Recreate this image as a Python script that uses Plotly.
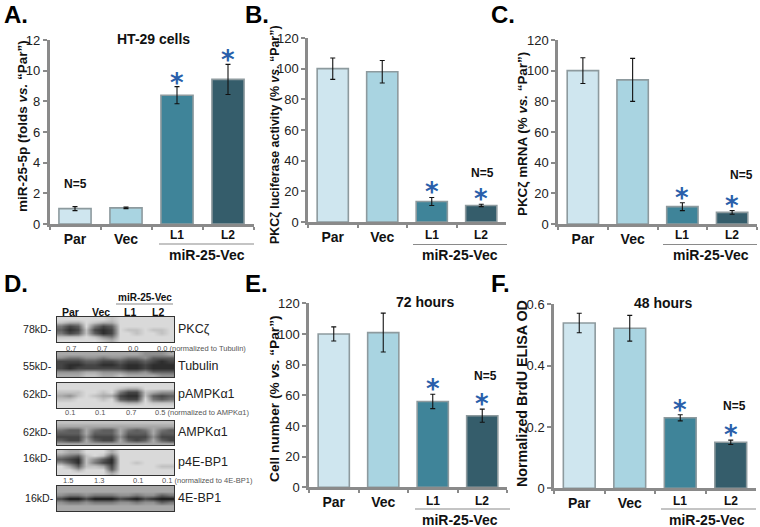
import plotly.graph_objects as go

W, H = 760, 527
FONT = "Liberation Sans"

categories = ["Par", "Vec", "L1", "L2"]
tick_labels = ["<b>Par</b>", "<b>Vec</b>", " ", "  "]
bar_colors = ["#cfe6ef", "#a9d4e1", "#3f8499", "#355d6b"]

a_values = [1.0, 1.05, 8.4, 9.43]
a_errors = [0.13, 0.05, 0.56, 0.98]
b_values = [100, 98, 13.4, 10.8]
b_errors = [7, 7.3, 2.6, 0.8]
c_values = [100, 94, 11.3, 7.6]
c_errors = [8.4, 14, 2.6, 1.2]
e_values = [100, 100.9, 56, 46.7]
e_errors = [4.6, 12.7, 4.7, 4.3]
f_values = [0.539, 0.522, 0.23, 0.15]
f_errors = [0.032, 0.042, 0.01, 0.007]

pct_ticks = [0, 20, 40, 60, 80, 100, 120]
pct_text = ["0", "20", "40", "60", "80", "100", "120"]
a_ticks = [0, 2, 4, 6, 8, 10, 12]
a_text = ["0", "2", "4", "6", "8", "10", "12"]
f_ticks = [0, 0.2, 0.4, 0.6]
f_text = ["0", "0.2", "0.4", "0.6"]

# Blot densities (0 = pale, 9 = darkest), lanes left to right
blot_pkc = [
    [1, 1, 1, 1, 1, 1, 2, 1, 1, 1, 1, 1, 1, 1],
    [2, 3, 3, 1, 2, 3, 3, 1, 1, 1, 1, 1, 1, 1],
    [5, 7, 6, 1, 5, 7, 6, 1, 1, 1, 1, 1, 1, 1],
    [6, 8, 7, 2, 7, 8, 7, 1, 2, 2, 1, 2, 2, 1],
    [5, 7, 6, 2, 6, 8, 7, 1, 1, 2, 1, 1, 2, 1],
    [2, 2, 2, 1, 2, 4, 5, 1, 1, 1, 1, 1, 1, 1],
    [1, 1, 1, 1, 1, 2, 3, 1, 1, 1, 1, 1, 1, 1],
]
blot_tubulin = [
    [3, 3, 3, 3, 3, 3, 3, 3, 3, 3, 4, 4, 4, 3],
    [4, 5, 5, 4, 4, 5, 4, 4, 5, 5, 4, 6, 6, 6],
    [7, 7, 7, 6, 6, 7, 7, 6, 7, 7, 6, 7, 8, 7],
    [7, 8, 8, 7, 7, 8, 8, 7, 8, 8, 7, 8, 8, 8],
    [7, 8, 7, 7, 7, 7, 7, 7, 8, 8, 7, 8, 8, 8],
    [4, 4, 4, 3, 3, 4, 4, 4, 5, 5, 4, 6, 6, 6],
    [3, 3, 3, 2, 2, 3, 3, 2, 3, 3, 3, 3, 4, 4],
]
blot_pampk = [
    [1, 1, 1, 1, 1, 1, 1, 1, 1, 1, 1, 1, 1, 1],
    [1, 1, 1, 1, 1, 1, 1, 2, 3, 3, 1, 1, 1, 1],
    [2, 2, 2, 1, 1, 2, 1, 5, 7, 7, 2, 3, 4, 4],
    [3, 4, 2, 1, 2, 3, 3, 7, 8, 8, 2, 6, 7, 6],
    [2, 2, 1, 1, 1, 2, 1, 6, 7, 7, 1, 5, 6, 5],
    [1, 1, 1, 1, 1, 1, 1, 2, 3, 3, 1, 2, 2, 2],
    [1, 1, 1, 1, 1, 1, 1, 1, 1, 1, 1, 1, 1, 1],
]
blot_ampk = [
    [2, 2, 2, 2, 2, 2, 2, 2, 2, 2, 2, 2, 2, 2],
    [3, 3, 3, 3, 3, 3, 3, 3, 3, 3, 3, 3, 3, 3],
    [5, 6, 6, 3, 5, 6, 6, 3, 5, 6, 5, 3, 5, 6],
    [6, 6, 6, 3, 6, 6, 6, 3, 6, 6, 6, 3, 6, 6],
    [7, 7, 7, 4, 7, 7, 7, 4, 7, 7, 7, 4, 7, 7],
    [6, 7, 7, 3, 6, 7, 7, 3, 6, 7, 6, 3, 6, 7],
    [3, 3, 3, 3, 3, 3, 3, 3, 3, 3, 3, 3, 3, 3],
]
blot_p4e = [
    [2, 3, 3, 1, 1, 1, 3, 1, 1, 1, 1, 1, 1, 1],
    [4, 5, 6, 2, 1, 2, 6, 1, 1, 1, 1, 1, 1, 1],
    [6, 7, 8, 2, 4, 6, 8, 1, 1, 1, 1, 1, 1, 1],
    [4, 6, 8, 2, 5, 7, 8, 1, 1, 2, 1, 1, 1, 1],
    [1, 3, 6, 2, 2, 3, 7, 1, 1, 1, 1, 1, 2, 2],
    [1, 1, 3, 1, 1, 1, 6, 1, 1, 1, 1, 1, 1, 1],
    [1, 1, 1, 1, 1, 1, 3, 1, 1, 1, 1, 1, 1, 1],
]
blot_4e = [
    [3, 3, 3, 3, 3, 3, 3, 3, 3, 3, 3, 3, 3, 3],
    [3, 3, 3, 3, 3, 3, 3, 3, 3, 3, 3, 3, 3, 3],
    [4, 5, 5, 4, 5, 5, 5, 4, 4, 5, 4, 4, 6, 5],
    [7, 9, 9, 7, 9, 9, 9, 7, 8, 9, 7, 8, 9, 9],
    [4, 5, 5, 4, 5, 5, 5, 4, 4, 5, 4, 4, 6, 5],
    [3, 3, 3, 3, 3, 3, 3, 3, 3, 3, 3, 3, 3, 3],
    [3, 3, 3, 3, 3, 3, 3, 3, 3, 3, 3, 3, 3, 3],
]

fig = go.Figure()
ann = []
shapes = []
layout = {}


def px(x, y, text, size=12, bold=False, color="#111", anchor="center", angle=0, family=FONT):
    ann.append(dict(x=x / W, y=1 - y / H, xref="paper", yref="paper", text=f"<b>{text}</b>" if bold else text,
                    showarrow=False, xanchor=anchor, yanchor="middle", textangle=angle,
                    font=dict(family=family, size=size, color=color)))


def panel(n, box, values, errors, ymax, ticks, ticktext, line_y, line_x, label_xy, l_y, star_shift=-12):
    left, right, top, bottom = box
    sfx = "" if n == 1 else str(n)
    fig.add_trace(go.Bar(x=categories, y=values, xaxis=f"x{sfx}", yaxis=f"y{sfx}", width=0.63,
                         marker=dict(color=bar_colors, line=dict(color="#8d9a9e", width=1.6)),
                         error_y=dict(type="data", array=errors, color="#111", thickness=1.1, width=2.5),
                         showlegend=False))
    layout[f"xaxis{sfx}"] = dict(domain=[left / W, right / W], type="category", categoryorder="array",
                                 categoryarray=categories, tickson="boundaries", tickvals=categories,
                                 ticktext=tick_labels, ticks="outside", ticklen=3, tickwidth=2, tickcolor="#8a8a8a",
                                 showline=True, linecolor="#8a8a8a", linewidth=2.5, showgrid=False, zeroline=False,
                                 anchor=f"y{sfx}", range=[-0.5, 3.5], automargin=False,
                                 tickfont=dict(family=FONT, size=14, color="#111"), fixedrange=True)
    layout[f"yaxis{sfx}"] = dict(domain=[1 - bottom / H, 1 - top / H], range=[0, ymax], tickvals=ticks, ticktext=ticktext,
                                 ticks="outside", ticklen=4, tickwidth=2, tickcolor="#8a8a8a", showline=True,
                                 linecolor="#8a8a8a", linewidth=2.5, showgrid=False, zeroline=False, automargin=False,
                                 anchor=f"x{sfx}", tickfont=dict(family=FONT, size=13, color="#222"), fixedrange=True)
    shapes.append(dict(type="line", xref="paper", yref="paper", x0=line_x[0] / W, x1=line_x[1] / W,
                       y0=1 - line_y / H, y1=1 - line_y / H, line=dict(color="#8a8a8a", width=1.2)))
    px(label_xy[0], label_xy[1], "miR-25-Vec", 14, True)
    for i in (2, 3):
        ann.append(dict(x=categories[i], y=l_y, xref=f"x{sfx}", yref="paper", text="<b>%s</b>" % categories[i],
                        showarrow=False, xanchor="center", yanchor="middle",
                        font=dict(family=FONT, size=12, color="#111")))
        ann.append(dict(x=categories[i], y=values[i] + errors[i], xref=f"x{sfx}", yref=f"y{sfx}", text="<b>*</b>",
                        showarrow=False, xanchor="center", yanchor="bottom", yshift=star_shift,
                        font=dict(family="DejaVu Sans", size=26, color="#2a5fab")))


panel(1, (49.5, 253.5, 40, 224), a_values, a_errors, 12, a_ticks, a_text, 244, (159, 254), (207, 255), 1 - 235 / H, -13)
panel(2, (308, 506, 38, 222), b_values, b_errors, 120, pct_ticks, pct_text, 244.5, (413, 507), (460, 255), 1 - 235 / H)
panel(3, (558, 757, 40, 224), c_values, c_errors, 120, pct_ticks, pct_text, 244.5, (663, 757), (711, 255), 1 - 235 / H)
panel(4, (309, 507, 303.3, 487.3), e_values, e_errors, 120, pct_ticks, pct_text, 509, (415, 510), (460, 520), 1 - 500.5 / H)
panel(5, (554, 756, 304.3, 488.3), f_values, f_errors, 0.6, f_ticks, f_text, 509, (661, 756), (707, 520), 1 - 500.5 / H)

# Western blot strips
strips = [
    (blot_pkc, 317, 342), (blot_tubulin, 352, 377), (blot_pampk, 383, 408),
    (blot_ampk, 421, 445), (blot_p4e, 450, 475), (blot_4e, 486, 511),
]
for k, (z, top, bottom) in enumerate(strips):
    n = 6 + k
    fig.add_trace(go.Heatmap(z=z, xaxis=f"x{n}", yaxis=f"y{n}", zmin=0, zmax=9, zsmooth="best", showscale=False,
                             colorscale=[[0, "#f2f2f2"], [1, "#141414"]], hoverinfo="skip"))
    common = dict(showticklabels=False, ticks="", showgrid=False, zeroline=False, showline=True, mirror=True,
                  linecolor="#333", linewidth=1.4, fixedrange=True, automargin=False)
    layout[f"xaxis{n}"] = dict(domain=[57 / W, 174 / W], anchor=f"y{n}", range=[-0.5, 13.5], **common)
    layout[f"yaxis{n}"] = dict(domain=[1 - bottom / H, 1 - top / H], anchor=f"x{n}", range=[6.5, -0.5], **common)

# Panel letters
for t, x, y in [("A.", 2, 14), ("B.", 243, 14), ("C.", 489, 14), ("D.", 2, 283), ("E.", 243, 283), ("F.", 489, 283)]:
    px(x, y, t, 24, True, "#000", "left")

# Titles and N labels
px(153, 39, "HT-29 cells", 14, True)
px(425, 302, "72 hours", 14, True)
px(663, 303, "48 hours", 14, True)
px(75, 184, "N=5", 12, True)
px(482, 173, "N=5", 12, True)
px(741, 175, "N=5", 12, True)
px(485, 376, "N=5", 12, True)
px(734, 406, "N=5", 12, True)

# Axis titles
px(23, 126, "miR-25-5p (folds <i>vs.</i> “Par”)", 13.5, True, angle=-90)
px(275, 135, "PKCζ luciferase activity (% <i>vs.</i> “Par”)", 12.4, True, angle=-90)
px(522, 134, "PKCζ mRNA (% <i>vs.</i> “Par”)", 13.4, True, angle=-90)
px(274, 399, "Cell number (% <i>vs.</i> “Par”)", 13.7, True, angle=-90)
px(522, 394, "Normalized BrdU ELISA OD", 14.3, True, angle=-90)

# Blot labels
for t, y, xr in [("78kD-", 329, 54), ("55kD-", 366, 54), ("62kD-", 394, 54), ("62kD-", 432, 54), ("16kD-", 458, 54), ("16kD-", 498, 56)]:
    px(xr, y, t, 10.6, False, "#222", "right")
for t, y in [("PKCζ", 329), ("Tubulin", 366), ("pAMPKα1", 394), ("AMPKα1", 432), ("p4E-BP1", 462), ("4E-BP1", 498)]:
    px(175.5, y, t, 12.5, False, "#222", "left")
for t, x in [("Par", 70), ("Vec", 100.7), ("L1", 130), ("L2", 158)]:
    px(x, 312, t, 10.5, True)
px(145, 297, "miR-25-Vec", 10, True)
shapes.append(dict(type="line", xref="paper", yref="paper", x0=116 / W, x1=173 / W, y0=1 - 304 / H, y1=1 - 304 / H,
                   line=dict(color="#8a8a8a", width=1.2)))
for t, x, y in [("0.7", 71, 348.5), ("0.7", 101.7, 348.5), ("0.0", 133, 348.5),
                ("0.1", 70, 412), ("0.1", 100, 412), ("0.7", 131, 412),
                ("1.5", 68, 480), ("1.3", 99, 480), ("0.1", 138, 480)]:
    px(x, y, t, 7.5, False, "#555")
px(155, 348.5, "0.0 (normalized to Tubulin)", 7.5, False, "#555", "left")
px(153, 412, "0.5 (normalized to AMPKα1)", 7.5, False, "#555", "left")
px(160, 480, "0.1 (normalized to 4E-BP1)", 7.5, False, "#555", "left")

fig.update_layout(width=W, height=H, margin=dict(l=0, r=0, t=0, b=0, autoexpand=False), paper_bgcolor="white", plot_bgcolor="white",
                  annotations=ann, shapes=shapes, showlegend=False, **layout)
fig.write_html("out.html", config=dict(displayModeBar=False, responsive=False),
               post_script="document.body.style.margin='0';")
